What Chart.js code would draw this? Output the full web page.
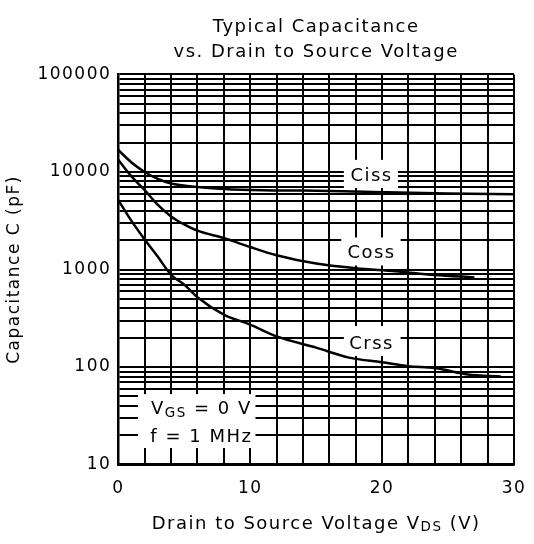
<!DOCTYPE html>
<html lang="en">
<head>
  <meta charset="UTF-8">
  <title>Typical Capacitance vs. Drain to Source Voltage</title>
  <script src="https://cdn.jsdelivr.net/npm/chart.js"></script>
  <style>
    html, body { margin: 0; padding: 0; background: #fff; }
  </style>
</head>
<body>
  <canvas id="capChart" width="534" height="544"></canvas>

  <script>
    // Values (V in volts, C in pF)
    const cissV = [0, 1, 2, 3, 4, 6, 8, 11, 14, 17, 20, 25, 30];
    const cissC = [16800, 12500, 10000, 8500, 7600, 7000, 6700, 6500, 6450, 6350, 6200, 6000, 5900];

    const cossV = [0, 1, 2, 3, 4, 5, 6, 8, 10, 12, 15, 18, 21, 24, 27];
    const cossC = [13300, 9000, 6500, 4600, 3500, 2900, 2500, 2100, 1700, 1400, 1150, 1030, 960, 880, 830];

    const crssV = [0, 1, 2, 3, 4, 5, 6, 8, 10, 12, 15, 17.5, 20, 22, 24, 26.5, 29];
    const crssC = [5150, 3150, 2030, 1350, 880, 700, 520, 345, 272, 206, 158, 125, 112, 102, 98, 84, 80];

    // axis ticks
    const xTicks = [0, 2, 4, 6, 8, 10, 12, 14, 16, 18, 20, 22, 24, 26, 28, 30];
    const xLabels = [0, 10, 20, 30];
    const yTicks = [];
    [10, 100, 1000, 10000].forEach(d => {
      for (let m = 1; m <= 9; m++) yTicks.push(m * d);
    });
    yTicks.push(100000);
    const yLabels = [10, 100, 1000, 10000, 100000];

    const FONT = "'DejaVu Sans', sans-serif";
    const SPACING = '1.5px';

    function toPoints(xs, ys) {
      return xs.map((x, i) => ({ x: x, y: ys[i] }));
    }

    // texte avec indice (VGS, VDS)
    function drawParts(ctx, parts, cx, cy, size) {
      let total = 0;
      parts.forEach(p => {
        ctx.font = (p.sub ? size * 0.75 : size) + 'px ' + FONT;
        total += ctx.measureText(p.t).width;
      });
      let x = cx - total / 2;
      ctx.textAlign = 'left';
      ctx.textBaseline = 'middle';
      parts.forEach(p => {
        ctx.font = (p.sub ? size * 0.75 : size) + 'px ' + FONT;
        ctx.fillText(p.t, x, p.sub ? cy + size * 0.22 : cy);
        x += ctx.measureText(p.t).width;
      });
    }

    // curve labels and the conditions box, placed in data coordinates
    const notes = [
      { box: [17.1, 21.2, 6850, 13300], lines: [{ at: [19.2, 9100], parts: [{ t: 'Ciss' }] }] },
      { box: [16.9, 21.4, 1100, 2130], lines: [{ at: [19.2, 1460], parts: [{ t: 'Coss' }] }] },
      { box: [17.1, 21.4, 130, 263], lines: [{ at: [19.2, 172], parts: [{ t: 'Crss' }] }] },
      { box: [1.5, 10.4, 14.8, 52.8], lines: [
        { at: [6.3, 37], parts: [{ t: 'V' }, { t: 'GS', sub: true }, { t: ' = 0 V' }] },
        { at: [6.3, 19.2], parts: [{ t: 'f = 1 MHz' }] }
      ] }
    ];

    const notesPlugin = {
      id: 'notes',
      beforeUpdate(chart) {
        // the scanned datasheet font is wide: open up all text a little
        chart.ctx.letterSpacing = SPACING;
      },
      beforeDraw(chart) {
        chart.ctx.letterSpacing = SPACING;
      },
      beforeDatasetsDraw(chart) {
        const { ctx, scales: { x, y } } = chart;
        ctx.save();
        notes.forEach(n => {
          const x0 = x.getPixelForValue(n.box[0]);
          const x1 = x.getPixelForValue(n.box[1]);
          const y0 = y.getPixelForValue(n.box[3]);
          const y1 = y.getPixelForValue(n.box[2]);
          ctx.fillStyle = '#fff';
          ctx.fillRect(x0, y0, x1 - x0, y1 - y0);
          ctx.fillStyle = '#000';
          n.lines.forEach(l => {
            drawParts(ctx, l.parts, x.getPixelForValue(l.at[0]), y.getPixelForValue(l.at[1]), 18);
          });
        });
        ctx.restore();
      },
      afterDraw(chart) {
        // x axis title with subscript
        const { ctx, chartArea } = chart;
        ctx.save();
        ctx.fillStyle = '#000';
        drawParts(ctx, [
          { t: 'Drain to Source Voltage V' }, { t: 'DS', sub: true }, { t: ' (V)' }
        ], (chartArea.left + chartArea.right) / 2, 524, 18);
        ctx.restore();
      }
    };

    const lineStyle = {
      borderColor: '#000',
      borderWidth: 2.5,
      pointRadius: 0,
      fill: false,
      cubicInterpolationMode: 'monotone'
    };

    new Chart(document.getElementById('capChart'), {
      type: 'line',
      data: {
        datasets: [
          Object.assign({ label: 'Ciss', data: toPoints(cissV, cissC) }, lineStyle),
          Object.assign({ label: 'Coss', data: toPoints(cossV, cossC) }, lineStyle),
          Object.assign({ label: 'Crss', data: toPoints(crssV, crssC) }, lineStyle)
        ]
      },
      options: {
        responsive: false,
        animation: false,
        devicePixelRatio: 1,
        layout: { padding: { left: 4, right: 20, top: 0, bottom: 31 } },
        plugins: {
          legend: { display: false },
          tooltip: { enabled: false },
          title: {
            display: true,
            fullSize: false,
            text: ['Typical Capacitance', 'vs. Drain to Source Voltage'],
            color: '#000',
            font: { family: FONT, size: 18, weight: 'normal', lineHeight: 1.4 },
            padding: { top: 15, bottom: 9 }
          }
        },
        scales: {
          x: {
            type: 'linear',
            min: 0,
            max: 30,
            afterBuildTicks: s => { s.ticks = xTicks.map(v => ({ value: v })); },
            // the end labels may hang past the plot edge, like the original
            afterFit: s => { s.paddingLeft = 0; s.paddingRight = 0; },
            ticks: {
              autoSkip: false,
              maxRotation: 0,
              padding: 14,
              color: '#000',
              font: { family: FONT, size: 17 },
              callback: v => xLabels.includes(v) ? String(v) : ''
            },
            grid: { color: '#000', lineWidth: 2, drawTicks: false },
            border: { color: '#000', width: 2.5 }
          },
          y: {
            type: 'logarithmic',
            min: 10,
            max: 100000,
            afterBuildTicks: s => { s.ticks = yTicks.map(v => ({ value: v })); },
            ticks: {
              autoSkip: false,
              padding: 7,
              color: '#000',
              font: { family: FONT, size: 17 },
              callback: v => yLabels.includes(v) ? String(v) : ''
            },
            grid: { color: '#000', lineWidth: 2, drawTicks: false },
            border: { color: '#000', width: 2.5 },
            title: {
              display: true,
              text: 'Capacitance C (pF)',
              color: '#000',
              font: { family: FONT, size: 17 },
              padding: { top: 0, bottom: 6 }
            }
          }
        }
      },
      plugins: [notesPlugin]
    });
  </script>
</body>
</html>
